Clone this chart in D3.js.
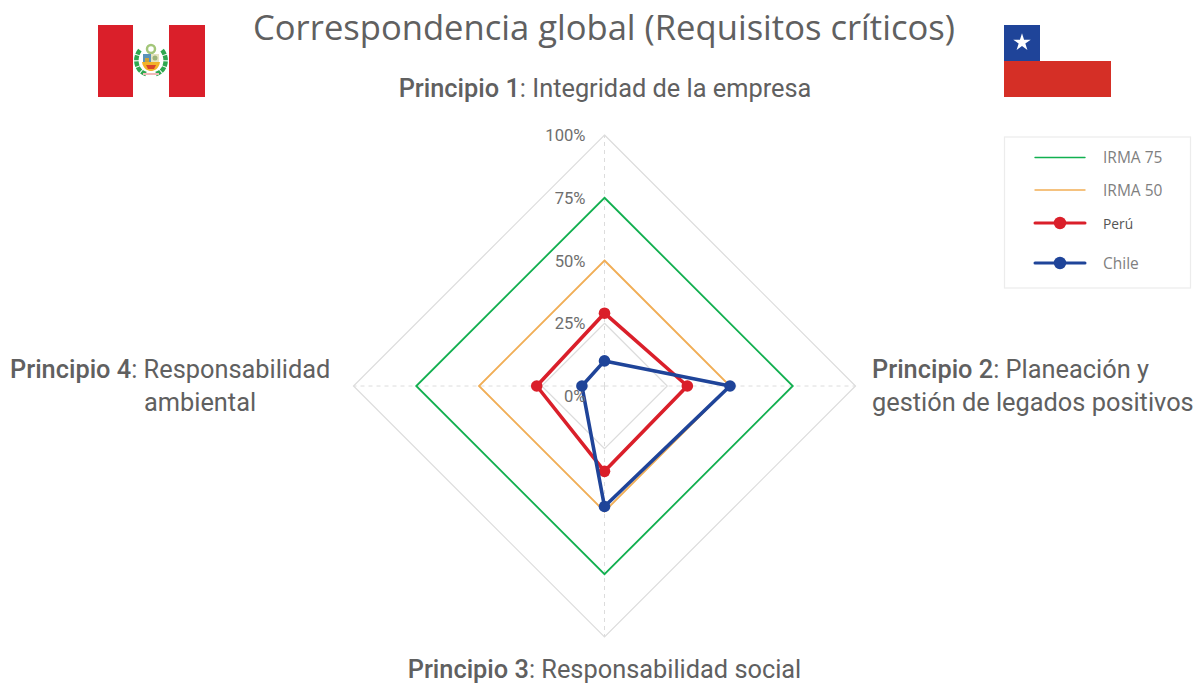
<!DOCTYPE html>
<html><head><meta charset="utf-8">
<script src="https://cdn.jsdelivr.net/npm/d3@7"></script>
<style>html,body{margin:0;padding:0;background:#fff}svg{display:block}</style></head>
<body><svg id="c" width="1201" height="684"></svg>
<script>
const axes = ["Principio 1","Principio 2","Principio 3","Principio 4"];
const ticks = [0,25,50,75,100];
const irma75 = [75,75,75,75];
const irma50 = [50,50,50,50];
const peru = [29,33,34,27];
const chile = [10,50,48,9];
const legendNames = ["IRMA 75","IRMA 50","Perú","Chile"];
const C = {g:"#12b050",o:"#f2ae55",r:"#da1f2a",b:"#1f4499",grid:"#dcdcdc",t:"#606060"};

const svg = d3.select("#c");
const cx=604.5, cy=386;
const r = d3.scaleLinear().domain([0,100]).range([0,251]);
const angle = d3.scalePoint().domain(d3.range(4)).range([0,Math.PI*1.5]);
const radial = d3.lineRadial().angle((d,i)=>angle(i)).radius(d=>r(d)).curve(d3.curveLinearClosed);
const g = svg.append("g").attr("transform",`translate(${cx},${cy})`);

// grid
ticks.slice(1).forEach(t=>{
  g.append("path").attr("d",radial([t,t,t,t])).attr("fill","none").attr("stroke",C.grid).attr("stroke-width",1.2);
});
d3.range(4).forEach(i=>{
  const a=angle(i);
  g.append("line").attr("x1",0).attr("y1",0)
   .attr("x2",r(100)*Math.sin(a)).attr("y2",-r(100)*Math.cos(a))
   .attr("stroke",C.grid).attr("stroke-width",1).attr("stroke-dasharray","4 4");
});
// series
g.append("path").attr("d",radial(irma75)).attr("fill","none").attr("stroke",C.g).attr("stroke-width",1.8);
g.append("path").attr("d",radial(irma50)).attr("fill","none").attr("stroke",C.o).attr("stroke-width",1.8);
[[peru,C.r],[chile,C.b]].forEach(([s,col])=>{
  g.append("path").attr("d",radial(s)).attr("fill","none").attr("stroke",col).attr("stroke-width",3.6).attr("stroke-linejoin","round");
  g.selectAll(null).data(s).join("circle")
   .attr("cx",(d,i)=>r(d)*Math.sin(angle(i))).attr("cy",(d,i)=>-r(d)*Math.cos(angle(i)))
   .attr("r",5.8).attr("fill",col);
});
// tick labels
svg.append("g").selectAll("text").data(ticks).join("text")
  .attr("x",585.5).attr("y",d=>d===0?cy+16:cy-r(d)+6)
  .attr("text-anchor","end").attr("font-family","Roboto").attr("font-size",16.6).attr("fill","#6e6e6e")
  .text(d=>d+"%");

// titles
const txt=(x,y,size,anchor,fam)=>svg.append("text").attr("x",x).attr("y",y).attr("font-size",size)
  .attr("text-anchor",anchor).attr("font-family",fam).attr("fill",C.t);
txt(604,39.5,34.6,"middle","'Open Sans'").text("Correspondencia global (Requisitos críticos)");
function lab(x,y,anchor,bold,rest){
  const t=txt(x,y,25.35,anchor,"Roboto");
  if(bold) t.append("tspan").attr("font-weight",500).text(bold);
  t.append("tspan").text(rest);
}
lab(605,97,"middle",axes[0],": Integridad de la empresa");
lab(872,378,"start",axes[1],": Planeación y");
lab(872,411,"start","","gestión de legados positivos");
lab(604.5,678,"middle",axes[2],": Responsabilidad social");
lab(10,378,"start",axes[3],": Responsabilidad");
lab(144,411,"start","","ambiental");

// legend
const lg=svg.append("g");
lg.append("rect").attr("x",1004.5).attr("y",137).attr("width",186).attr("height",151).attr("fill","#fff").attr("stroke","#ececec").attr("stroke-width",1.2);
const ly=[157.5,190,223,263], lc=[C.g,C.o,C.r,C.b];
legendNames.forEach((n,i)=>{
  lg.append("line").attr("x1",1035).attr("x2",1085).attr("y1",ly[i]).attr("y2",ly[i])
    .attr("stroke",lc[i]).attr("stroke-width",i>1?3:1.4).attr("stroke-linecap","round");
  if(i>1) lg.append("circle").attr("cx",1060).attr("cy",ly[i]).attr("r",6.2).attr("fill",lc[i]);
  lg.append("text").attr("x",1103).attr("y",ly[i]+5.5).attr("font-family","'Open Sans'")
    .attr("font-size",i===2?13.8:15.5).attr("fill",i===2?"#555":"#7f7f7f").text(n);
});

// Peru flag
const pf=svg.append("g");
pf.append("rect").attr("x",98).attr("y",25).attr("width",35).attr("height",72).attr("fill","#da1f2a");
pf.append("rect").attr("x",169).attr("y",25).attr("width",36).attr("height",72).attr("fill","#da1f2a");
const cr=pf.append("g").attr("transform","translate(151,61)");
cr.append("path").attr("d","M-5,13 C-16,10 -17,-4 -11,-11").attr("fill","none").attr("stroke","#2fa84f").attr("stroke-width",4.5).attr("stroke-dasharray","5 1");
cr.append("path").attr("d","M5,13 C16,10 17,-4 11,-11").attr("fill","none").attr("stroke","#2fa84f").attr("stroke-width",4.5).attr("stroke-dasharray","5 1");
cr.append("circle").attr("cx",0).attr("cy",-12).attr("r",4).attr("fill","none").attr("stroke","#a3c67a").attr("stroke-width",2.5);
cr.append("rect").attr("x",-8).attr("y",-7).attr("width",8).attr("height",8).attr("fill","#5b93b8");
cr.append("rect").attr("x",-6).attr("y",-3).attr("width",4).attr("height",4).attr("fill","#c9a23a");
cr.append("rect").attr("x",0).attr("y",-7).attr("width",8).attr("height",8).attr("fill","#e6e3c0");
cr.append("circle").attr("cx",4).attr("cy",-3).attr("r",2.5).attr("fill","#9db37a");
cr.append("path").attr("d","M-9,1 H9 C8,8 3,10 0,10 C-3,10 -8,8 -9,1Z").attr("fill","#f2b32a");
cr.append("path").attr("d","M-5,4 H5 L3,8 H-3Z").attr("fill","#d9452b");
cr.append("rect").attr("x",-8).attr("y",12).attr("width",16).attr("height",2).attr("fill","#f0b9b9");

// Chile flag
const cf=svg.append("g");
cf.append("rect").attr("x",1004).attr("y",61).attr("width",107).attr("height",36).attr("fill","#d52f26");
cf.append("rect").attr("x",1004).attr("y",25).attr("width",36).attr("height",36).attr("fill","#1f4499");
cf.append("path").attr("d",d3.symbol(d3.symbolStar,95)()).attr("transform","translate(1022,42.5)").attr("fill","#fff");
</script></body></html>
